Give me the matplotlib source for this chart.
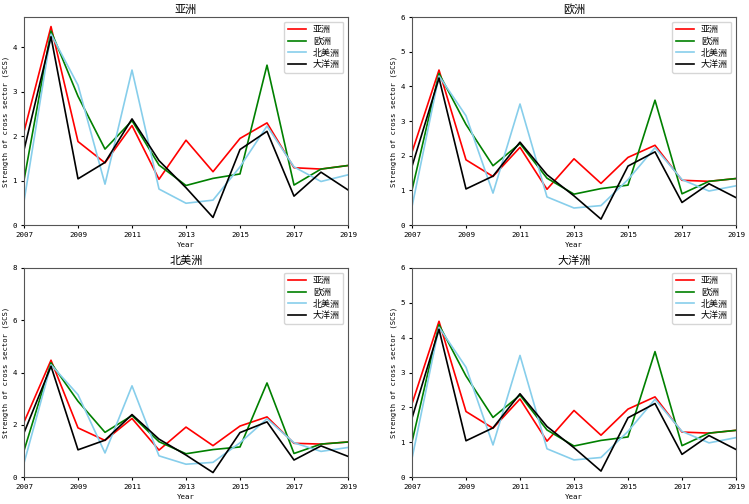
import matplotlib
matplotlib.use('Agg')
import matplotlib.pyplot as plt
import numpy as np

plt.rcParams['font.family'] = ['Noto Sans CJK SC', 'DejaVu Sans']

# -------------------
years = np.arange(2007, 2020)
names = ['亚洲', '欧洲', '北美洲', '大洋洲']
colors = ['red', 'green', 'skyblue', 'black']

asia = [2.10, 4.47, 1.88, 1.40, 2.24, 1.03, 1.91, 1.20, 1.95, 2.30, 1.29, 1.26, 1.34]
europe = [1.01, 4.37, 2.90, 1.71, 2.35, 1.35, 0.89, 1.05, 1.15, 3.60, 0.90, 1.26, 1.34]
n_america = [0.53, 4.30, 3.15, 0.92, 3.49, 0.81, 0.49, 0.56, 1.31, 2.23, 1.31, 0.98, 1.13]
oceania = [1.69, 4.24, 1.04, 1.41, 2.39, 1.45, 0.84, 0.17, 1.70, 2.11, 0.65, 1.19, 0.79]
series = [asia, europe, n_america, oceania]

# panel title, y top (None = auto)
panels = [('亚洲', None), ('欧洲', 6), ('北美洲', 8), ('大洋洲', 6)]

W, H = 749, 504
fig = plt.figure(figsize=(W / 100, H / 100), dpi=100)
# axes boxes in pixels: left, top, right, bottom
boxes = [(24, 17, 348, 225), (412, 17, 736, 225),
         (24, 268, 348, 477), (412, 268, 736, 477)]

mono = 'DejaVu Sans Mono'

for (title, ytop), (l, t, r, b) in zip(panels, boxes):
    ax = fig.add_axes([l / W, 1 - b / H, (r - l) / W, (b - t) / H])
    for vals, name, c in zip(series, names, colors):
        ax.plot(years, vals, color=c, lw=1.2, label=name)
    ax.set_xlim(2007, 2019)
    ax.set_xticks(np.arange(2007, 2020, 2))
    if ytop is None:
        ax.set_ylim(bottom=0)
    else:
        ax.set_ylim(0, ytop)
    ax.set_title(title, fontsize=8, pad=3)
    ax.set_xlabel('Year', fontsize=5.3, family=mono, labelpad=3)
    ax.set_ylabel('Strength of cross sector (SCS)', fontsize=5.2, family=mono)
    ax.yaxis.set_label_coords(-0.045, 0.5)
    ax.tick_params(length=2, pad=3)
    for lab in ax.get_xticklabels() + ax.get_yticklabels():
        lab.set_fontfamily(mono)
        lab.set_fontsize(5.4)
    for s in ax.spines.values():
        s.set_color('#555555')
    ax.legend(loc='upper right', fontsize=6.5, labelspacing=0.3,
              handlelength=2.0, borderpad=0.4)

plt.savefig('out.png', dpi=100)
